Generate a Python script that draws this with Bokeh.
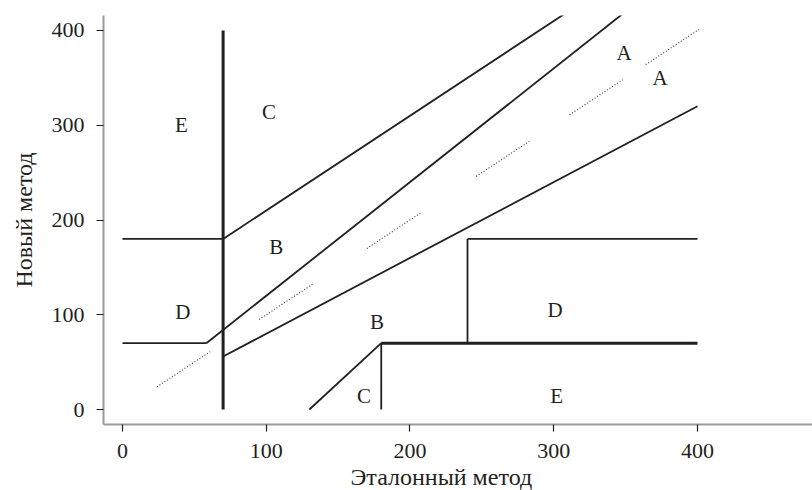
from bokeh.plotting import figure
from bokeh.models import Range1d, FixedTicker, ColumnDataSource, Title
from bokeh.embed import file_html
from bokeh.resources import INLINE

# Clarke error grid zone boundaries (mg/dL)
thin_x0 = [0, 70, 0, 58.33, 70, 130, 180, 240, 240]
thin_y0 = [180, 180, 70, 70, 56, 0, 0, 70, 180]
thin_x1 = [70, 400, 58.33, 400, 400, 180, 180, 240, 400]
thin_y1 = [180, 510, 70, 480, 320, 70, 70, 180, 180]

thick_x0 = [70, 180]
thick_y0 = [0, 70]
thick_x1 = [70, 400]
thick_y1 = [400, 70]

# Line of identity, drawn as broken dotted pieces
diag_start = [24, 95, 170, 246, 311, 364]
diag_end = [61, 133, 207, 283, 348, 401]

# Zone labels
zone_text = ["E", "C", "B", "D", "A", "A", "B", "C", "D", "E"]
zone_x = [41, 102, 107, 42, 349, 374, 177, 168, 301, 302]
zone_y = [300, 314, 172, 103, 376, 350, 92, 14, 105, 14]

ticks = [0, 100, 200, 300, 400]

FONT = "Liberation Serif"
INK = "#231f20"

p = figure(width=812, height=490, output_backend="svg", toolbar_location=None,
           x_range=Range1d(-13.2, 480), y_range=Range1d(-15.8, 415.8),
           min_border_left=103, min_border_right=0, min_border_top=15,
           min_border_bottom=65)
p.outline_line_color = None
p.grid.visible = False
p.background_fill_color = "white"

p.segment(thin_x0, thin_y0, thin_x1, thin_y1, line_color=INK, line_width=1.8)
p.segment(thick_x0, thick_y0, thick_x1, thick_y1, line_color=INK, line_width=3)
p.segment(diag_start, diag_start, diag_end, diag_end, line_color="#444444",
          line_width=1.2, line_dash="1 2")

src = ColumnDataSource(dict(x=zone_x, y=zone_y, t=zone_text))
p.text("x", "y", text="t", source=src, text_align="center",
       text_baseline="middle", text_font={"value": FONT},
       text_font_size="21px", text_color=INK)

for ax in (p.xaxis[0], p.yaxis[0]):
    ax.ticker = FixedTicker(ticks=ticks)
    ax.minor_tick_line_color = None
    ax.major_tick_out = 7
    ax.major_tick_in = 0
    ax.major_tick_line_color = INK
    ax.major_tick_line_width = 1.2
    ax.axis_line_color = "#9a9a9a"
    ax.axis_line_width = 2
    ax.major_label_text_font = FONT
    ax.major_label_text_font_size = "22px"
    ax.major_label_text_color = INK
    ax.axis_label_text_font = FONT
    ax.axis_label_text_font_size = "24px"
    ax.axis_label_text_font_style = "normal"
    ax.axis_label_text_color = INK

p.yaxis.axis_label = "Новый метод"
p.xaxis.major_label_standoff = 12
p.yaxis.major_label_standoff = 12
p.yaxis.axis_label_standoff = 12

# x-axis caption, set a little left of the frame centre
xlab = Title(text="Эталонный метод", align="left", offset=247,
             text_font=FONT, text_font_size="24px", text_font_style="normal",
             text_color=INK, standoff=2)
p.add_layout(xlab, "below")

open("out.html", "w").write(file_html(p, INLINE))
